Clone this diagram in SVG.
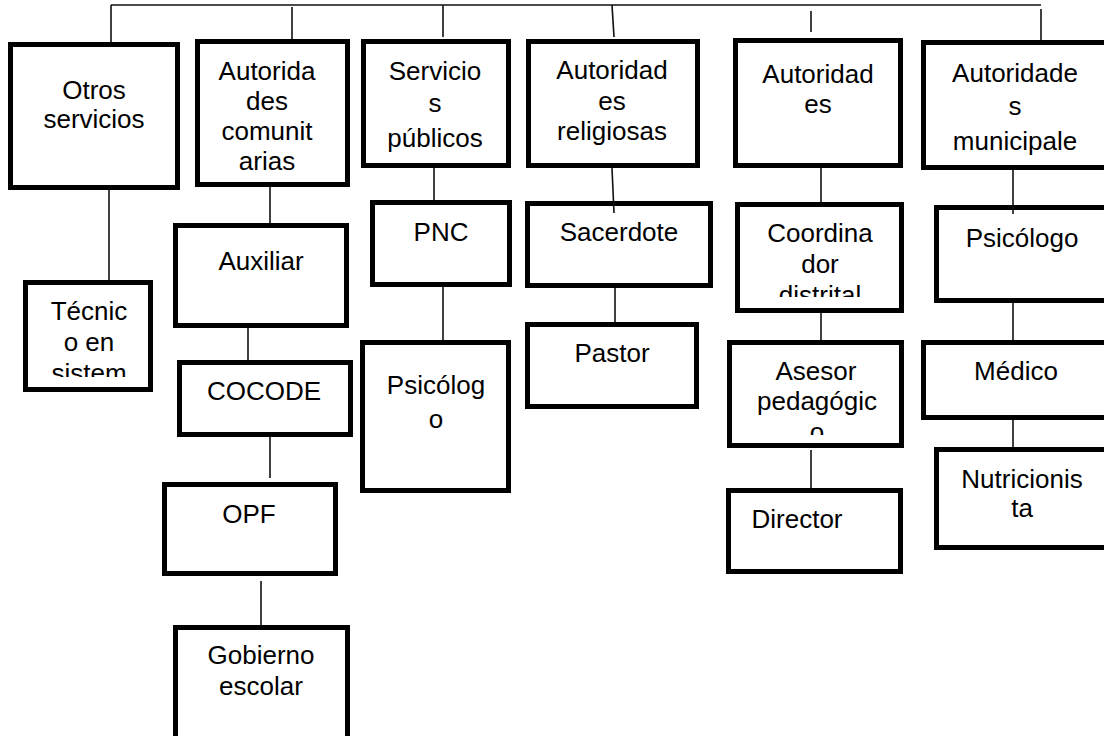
<svg xmlns="http://www.w3.org/2000/svg" width="1104" height="736" viewBox="0 0 1104 736">
<style>
.box{fill:#fff;stroke:#000;stroke-width:5}
.c{stroke:#111;stroke-width:1.6;fill:none}
text{font-family:"Liberation Sans",Arial,sans-serif;font-size:26px;fill:#000;text-anchor:middle}
</style>
<defs>
<clipPath id="clipTec"><rect x="0" y="0" width="1104" height="377"/></clipPath>
<clipPath id="clipCoord"><rect x="0" y="0" width="1104" height="297"/></clipPath>
<clipPath id="clipAses"><rect x="0" y="0" width="1104" height="435"/></clipPath>
</defs>
<rect width="1104" height="736" fill="#fff"/>
<g id="connectors">
<line class="c" x1="111" y1="5" x2="1041" y2="5"/>
<line class="c" x1="111" y1="5" x2="111" y2="42"/>
<line class="c" x1="292" y1="7" x2="292" y2="39"/>
<line class="c" x1="443" y1="5" x2="443" y2="37"/>
<line class="c" x1="612" y1="5" x2="614" y2="37"/>
<line class="c" x1="811" y1="11" x2="811" y2="32"/>
<line class="c" x1="1041" y1="9" x2="1041" y2="40"/>
<line class="c" x1="109" y1="190" x2="109" y2="280"/>
<line class="c" x1="270" y1="187" x2="270" y2="223"/>
<line class="c" x1="248" y1="328" x2="248" y2="360"/>
<line class="c" x1="270" y1="437" x2="270" y2="478"/>
<line class="c" x1="261" y1="581" x2="261" y2="625"/>
<line class="c" x1="434" y1="168" x2="434" y2="200"/>
<line class="c" x1="443" y1="287" x2="443" y2="340"/>
<line class="c" x1="615" y1="288" x2="615" y2="322"/>
<line class="c" x1="821" y1="168" x2="821" y2="202"/>
<line class="c" x1="821" y1="313" x2="821" y2="340"/>
<line class="c" x1="811" y1="450" x2="811" y2="488"/>
<line class="c" x1="1013" y1="303" x2="1013" y2="340"/>
<line class="c" x1="1013" y1="420" x2="1013" y2="447"/>
</g>
<g id="otros"><rect class="box" x="10.5" y="44.5" width="167" height="143"/><text x="94" y="99">Otros</text><text x="94" y="128">servicios</text></g>
<g id="comunitarias"><rect class="box" x="197.5" y="41.5" width="150" height="143"/><text x="267" y="80">Autorida</text><text x="267" y="110">des</text><text x="267" y="140">comunit</text><text x="267" y="170">arias</text></g>
<g id="servicios"><rect class="box" x="363.5" y="41.5" width="145" height="124"/><text x="435" y="80">Servicio</text><text x="435" y="112">s</text><text x="435" y="147">públicos</text></g>
<g id="religiosas"><rect class="box" x="528.5" y="41.5" width="169" height="124"/><text x="612" y="79">Autoridad</text><text x="612" y="110">es</text><text x="612" y="140">religiosas</text></g>
<g id="autoridades"><rect class="box" x="735.5" y="40.5" width="165" height="125"/><text x="818" y="83">Autoridad</text><text x="818" y="113">es</text></g>
<g id="municipales"><rect class="box" x="923.5" y="42.5" width="190" height="125"/><text x="1015" y="82">Autoridade</text><text x="1015" y="115">s</text><text x="1015" y="150">municipale</text></g>
<g id="tecnico"><rect class="box" x="25.5" y="282.5" width="125" height="107"/><g clip-path="url(#clipTec)"><text x="89" y="320">Técnic</text><text x="89" y="351">o en</text><text x="89" y="382">sistem</text></g></g>
<g id="auxiliar"><rect class="box" x="175.5" y="225.5" width="171" height="100"/><text x="261" y="270">Auxiliar</text></g>
<g id="cocode"><rect class="box" x="179.5" y="362.5" width="171" height="72"/><text x="264" y="400">COCODE</text></g>
<g id="opf"><rect class="box" x="164.5" y="484.5" width="171" height="89"/><text x="249" y="523">OPF</text></g>
<g id="gobierno"><rect class="box" x="175.5" y="627.5" width="172" height="112"/><text x="261" y="664">Gobierno</text><text x="261" y="695">escolar</text></g>
<g id="pnc"><rect class="box" x="372.5" y="202.5" width="137" height="82"/><text x="441" y="241">PNC</text></g>
<g id="psicologo1"><rect class="box" x="362.5" y="342.5" width="146" height="148"/><text x="436" y="394">Psicólog</text><text x="436" y="428">o</text></g>
<g id="sacerdote"><rect class="box" x="527.5" y="203.5" width="183" height="82"/><text x="619" y="241">Sacerdote</text></g>
<g id="pastor"><rect class="box" x="527.5" y="324.5" width="169" height="82"/><text x="612" y="362">Pastor</text></g>
<g id="coordinador"><rect class="box" x="737.5" y="204.5" width="164" height="106"/><g clip-path="url(#clipCoord)"><text x="820" y="242">Coordina</text><text x="820" y="273">dor</text><text x="820" y="304">distrital</text></g></g>
<g id="asesor"><rect class="box" x="729.5" y="342.5" width="172" height="103"/><g clip-path="url(#clipAses)"><text x="816" y="380">Asesor</text><text x="817" y="410">pedagógic</text><text x="817" y="441">o</text></g></g>
<g id="director"><rect class="box" x="728.5" y="490.5" width="172" height="81"/><text x="797" y="528">Director</text></g>
<g id="psicologo2"><rect class="box" x="936.5" y="207.5" width="180" height="93"/><text x="1022" y="247">Psicólogo</text></g>
<g id="medico"><rect class="box" x="923.5" y="342.5" width="190" height="75"/><text x="1016" y="380">Médico</text></g>
<g id="nutricionista"><rect class="box" x="936.5" y="449.5" width="180" height="98"/><text x="1022" y="488">Nutricionis</text><text x="1022" y="517">ta</text></g>
<g id="connectors-overlay">
<line class="c" x1="612" y1="168" x2="614" y2="213"/>
<line class="c" x1="1013" y1="170" x2="1013" y2="214"/>
</g>
</svg>
